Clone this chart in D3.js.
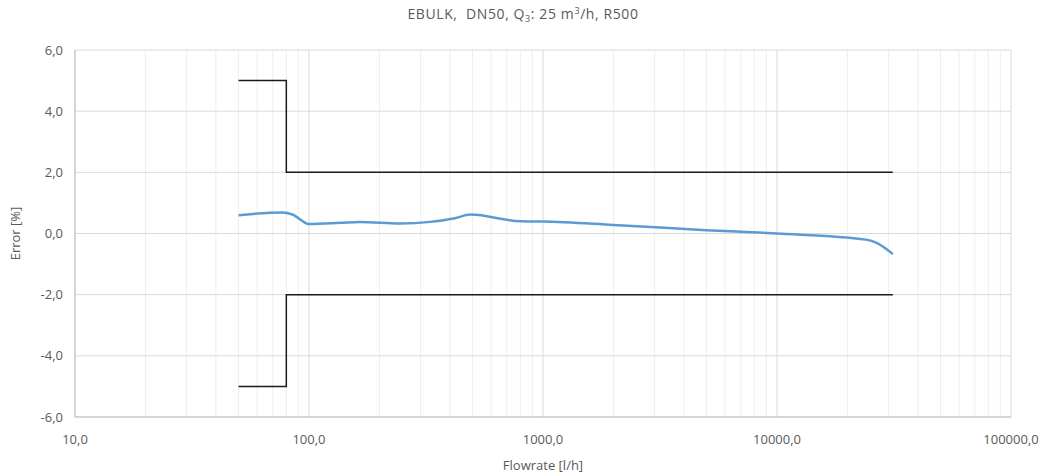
<!DOCTYPE html>
<html>
<head>
<meta charset="utf-8">
<script src="https://cdn.jsdelivr.net/npm/d3@7"></script>
<style>
  body { margin: 0; background: #fff; }
  text { font-family: "Open Sans", "Noto Sans", sans-serif; fill: #595959; }
</style>
</head>
<body>
<div id="chart"></div>
<script>
// measured curve
const flow = [50, 77, 85, 100, 136, 165, 245, 330, 420, 490, 800, 1000, 2000, 5000, 10000, 24000, 26500, 31250];
const error = [0.60, 0.69, 0.62, 0.31, 0.35, 0.38, 0.33, 0.38, 0.50, 0.62, 0.40, 0.39, 0.28, 0.11, 0.00, -0.20, -0.30, -0.67];

// MPE limits (Q1 = 50, Q2 = 80, Q4 = 31250 l/h)
const limitFlow = [50, 80, 80, 31250];
const upperLimit = [5, 5, 2, 2];
const lowerLimit = [-5, -5, -2, -2];

const xTicks = [10, 100, 1000, 10000, 100000];
const yTicks = [-6, -4, -2, 0, 2, 4, 6];

const W = 1051, H = 476;
const margin = { top: 50, right: 40, bottom: 59, left: 75 };
const width = W - margin.left - margin.right;
const height = H - margin.top - margin.bottom;

const svg = d3.select("#chart").append("svg")
    .attr("width", W)
    .attr("height", H);

const g = svg.append("g")
    .attr("transform", `translate(${margin.left},${margin.top})`);

const x = d3.scaleLog().domain([10, 100000]).range([0, width]);
const y = d3.scaleLinear().domain([-6, 6]).range([height, 0]);

// comma decimal, plain hyphen minus
const fmt = v => v.toFixed(1).replace(".", ",");

// minor vertical gridlines
const minor = [];
for (let d = 10; d < 100000; d *= 10) {
    for (let k = 2; k <= 9; k++) minor.push(d * k);
}
g.selectAll(".minor")
    .data(minor)
    .enter().append("line")
    .attr("x1", d => x(d)).attr("x2", d => x(d))
    .attr("y1", 0).attr("y2", height)
    .attr("stroke", "#eeeeee")
    .attr("stroke-width", 1);

// major gridlines
g.selectAll(".vmajor")
    .data(xTicks)
    .enter().append("line")
    .attr("x1", d => x(d)).attr("x2", d => x(d))
    .attr("y1", 0).attr("y2", height)
    .attr("stroke", "#d9d9d9");

g.selectAll(".hmajor")
    .data(yTicks)
    .enter().append("line")
    .attr("x1", 0).attr("x2", width)
    .attr("y1", d => y(d)).attr("y2", d => y(d))
    .attr("stroke", "#d9d9d9");

// axis lines
g.append("line").attr("x1", 0).attr("x2", 0).attr("y1", 0).attr("y2", height).attr("stroke", "#bfbfbf");
g.append("line").attr("x1", 0).attr("x2", width).attr("y1", height).attr("y2", height).attr("stroke", "#bfbfbf");

// tick labels
g.selectAll(".ylab")
    .data(yTicks)
    .enter().append("text")
    .attr("x", -12)
    .attr("y", d => y(d))
    .attr("dy", "0.35em")
    .attr("text-anchor", "end")
    .style("font-size", "13px")
    .text(fmt);

g.selectAll(".xlab")
    .data(xTicks)
    .enter().append("text")
    .attr("x", d => x(d))
    .attr("y", height + 27)
    .attr("text-anchor", "middle")
    .style("font-size", "13px")
    .text(fmt);

// limits
const stepLine = d3.line().x(d => x(d[0])).y(d => y(d[1]));
[upperLimit, lowerLimit].forEach(lim => {
    g.append("path")
        .datum(limitFlow.map((f, i) => [f, lim[i]]))
        .attr("d", stepLine)
        .attr("fill", "none")
        .attr("stroke", "#1a1a1a")
        .attr("stroke-width", 1.5);
});

// error curve
const curve = d3.line()
    .x(d => x(d[0]))
    .y(d => y(d[1]))
    .curve(d3.curveMonotoneX);
g.append("path")
    .datum(flow.map((f, i) => [f, error[i]]))
    .attr("d", curve)
    .attr("fill", "none")
    .attr("stroke", "#5b9bd5")
    .attr("stroke-width", 2.5)
    .attr("stroke-linejoin", "round");

// title
const title = svg.append("text")
    .attr("x", 523)
    .attr("y", 19)
    .attr("text-anchor", "middle")
    .style("font-size", "14px")
    .style("letter-spacing", "0.6px")
    .style("white-space", "pre");
title.append("tspan").text("EBULK,  DN50, Q");
title.append("tspan").attr("dy", 3).style("font-size", "9px").text("3");
title.append("tspan").attr("dy", -3).text(": 25 m");
title.append("tspan").attr("dy", -5).style("font-size", "9px").text("3");
title.append("tspan").attr("dy", 5).text("/h, R500");

// axis titles
svg.append("text")
    .attr("x", margin.left + x(1000))
    .attr("y", 470)
    .attr("text-anchor", "middle")
    .style("font-size", "13px")
    .text("Flowrate [l/h]");

svg.append("text")
    .attr("transform", `translate(20,${margin.top + y(0)}) rotate(-90)`)
    .attr("text-anchor", "middle")
    .style("font-size", "13px")
    .text("Error [%]");
</script>
</body>
</html>
